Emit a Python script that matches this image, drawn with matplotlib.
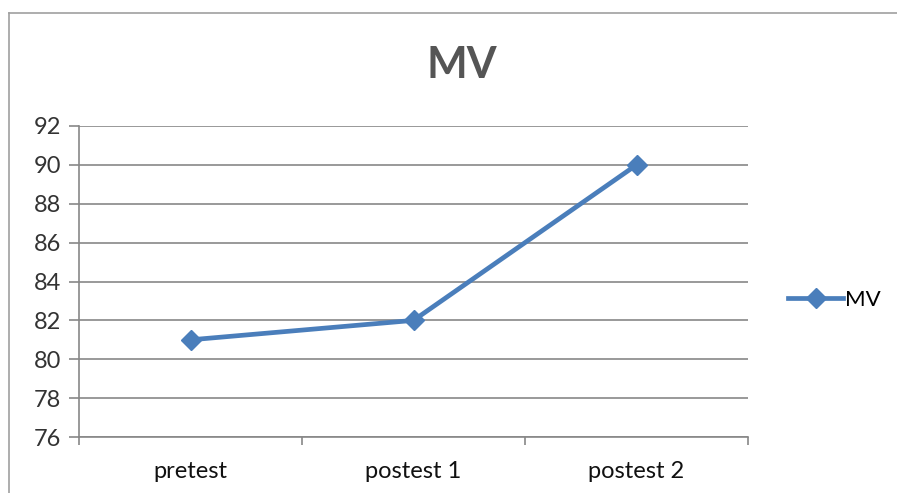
import matplotlib.pyplot as plt
from matplotlib.lines import Line2D

categories = ["pretest", "postest 1", "postest 2"]
mv_values = [81, 82, 90]
y_ticks = [76, 78, 80, 82, 84, 86, 88, 90, 92]

line_color = "#4A7EBB"
grid_color = "#878787"

plt.rcParams["font.family"] = ["Lato", "DejaVu Sans"]

W, H = 897, 493
fig = plt.figure(figsize=(W / 100, H / 100), dpi=100)
ax = fig.add_axes((79 / W, 1 - 437 / H, (748 - 79) / W, (437 - 126) / H))

x = [i + 0.5 for i in range(len(categories))]
ax.plot(x, mv_values, color=line_color, lw=3.4, marker="D", ms=10.5,
        mfc=line_color, mec=line_color, solid_capstyle="round", zorder=3)

ax.set_xlim(0, len(categories))
ax.set_ylim(76, 92)
ax.set_yticks(y_ticks)
ax.set_xticks(x)
ax.set_xticklabels(categories)
ax.set_xticks(range(len(categories) + 1), minor=True)
ax.tick_params(axis="x", which="major", length=0, pad=17, labelsize=17, labelcolor="#111111")
ax.tick_params(axis="x", which="minor", length=6, color=grid_color, width=1.2)
ax.tick_params(axis="y", length=7, color=grid_color, width=1.2, labelsize=17,
               labelcolor="#333333", pad=6)
ax.grid(axis="y", color=grid_color, lw=1.2)
ax.set_axisbelow(True)
for s in ["top", "right"]:
    ax.spines[s].set_visible(False)
for s in ["left", "bottom"]:
    ax.spines[s].set_color(grid_color)
    ax.spines[s].set_linewidth(1.2)

fig.text(462 / W, 1 - 65 / H, "MV", ha="center", va="center",
         fontsize=31, fontweight="bold", color="#555555")

handle = Line2D([], [], color=line_color, lw=3.4, marker="D", ms=10.5)
fig.legend([handle], ["MV"], loc="center left", bbox_to_anchor=(779 / W, 1 - 300 / H),
           frameon=False, fontsize=16, handlelength=2.5, handletextpad=0.05,
           borderaxespad=0)

# chart border
fig.add_artist(Line2D([9 / W, 9 / W], [0, 1 - 13 / H], color="#a0a0a0", lw=1.2))
fig.add_artist(Line2D([9 / W, 1], [1 - 13 / H, 1 - 13 / H], color="#a0a0a0", lw=1.2))

fig.savefig("out.png", dpi=100)
